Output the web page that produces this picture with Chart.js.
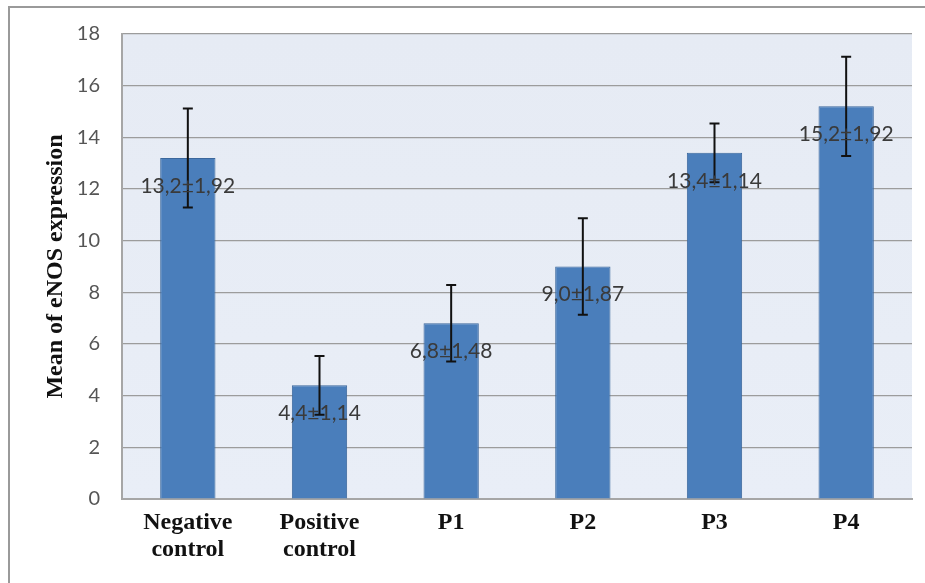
<!DOCTYPE html>
<html>
<head>
<meta charset="utf-8">
<script src="https://cdn.jsdelivr.net/npm/chart.js@4.4.1/dist/chart.umd.min.js"></script>
<style>
  html, body { margin: 0; padding: 0; background: #fff; }
  #wrap { position: relative; width: 925px; height: 583px; }
  #frame { position: absolute; left: 8px; top: 6px; right: 0; bottom: 0;
           border-left: 2px solid #9a9a9a; border-top: 2px solid #9a9a9a; }
  canvas { position: absolute; left: 0; top: 0; }
</style>
</head>
<body>
<div id="wrap">
  <div id="frame"></div>
  <canvas id="chart" width="925" height="583"></canvas>
</div>
<script>
const categories = [["Negative", "control"], ["Positive", "control"], "P1", "P2", "P3", "P4"];
const means = [13.2, 4.4, 6.8, 9.0, 13.4, 15.2];
const errors = [1.92, 1.14, 1.48, 1.87, 1.14, 1.92];
const labels = ["13,2±1,92", "4,4±1,14", "6,8±1,48", "9,0±1,87", "13,4±1,14", "15,2±1,92"];

const plotBg = {
  id: "plotBg",
  beforeDraw(chart) {
    const { ctx, chartArea: a } = chart;
    const g = ctx.createLinearGradient(0, a.top, 0, a.bottom);
    g.addColorStop(0, "#e6ebf4");
    g.addColorStop(1, "#e9eef7");
    ctx.save();
    ctx.fillStyle = g;
    ctx.fillRect(a.left, a.top, a.right - a.left, a.bottom - a.top);
    ctx.restore();
  }
};

const errorBars = {
  id: "errorBars",
  afterDatasetsDraw(chart) {
    const { ctx } = chart;
    const y = chart.scales.y;
    const meta = chart.getDatasetMeta(0);
    ctx.save();
    ctx.strokeStyle = "#111";
    ctx.lineWidth = 2;
    meta.data.forEach((bar, i) => {
      const hi = y.getPixelForValue(means[i] + errors[i]);
      const lo = y.getPixelForValue(means[i] - errors[i]);
      ctx.beginPath();
      ctx.moveTo(bar.x, hi); ctx.lineTo(bar.x, lo);
      ctx.moveTo(bar.x - 5, hi); ctx.lineTo(bar.x + 5, hi);
      ctx.moveTo(bar.x - 5, lo); ctx.lineTo(bar.x + 5, lo);
      ctx.stroke();
    });
    // value labels
    ctx.fillStyle = "#3a3a3a";
    ctx.font = "21px Lato, 'Open Sans', sans-serif";
    ctx.textAlign = "center";
    ctx.textBaseline = "middle";
    meta.data.forEach((bar, i) => {
      ctx.fillText(labels[i], bar.x, bar.y + 28);
    });
    ctx.restore();
  }
};

new Chart(document.getElementById("chart"), {
  type: "bar",
  data: {
    labels: categories,
    datasets: [{
      data: means,
      backgroundColor: "#4a7ebb",
      borderColor: "#3b679c",
      borderWidth: 1,
      barPercentage: 0.42,
      categoryPercentage: 1.0
    }]
  },
  options: {
    responsive: false,
    animation: false,
    events: [],
    layout: { padding: { left: 41, top: 33, right: 13, bottom: 0 } },
    plugins: { legend: { display: false }, tooltip: { enabled: false } },
    scales: {
      x: {
        grid: { display: false },
        border: { color: "#a6a6a6", width: 2 },
        ticks: {
          color: "#111",
          font: { family: "'Liberation Serif', 'DejaVu Serif', serif", size: 24, weight: "bold", lineHeight: 1.12 },
          padding: 2,
          maxRotation: 0
        },
        afterFit(scale) { scale.height = 84; }
      },
      y: {
        min: 0,
        max: 18,
        ticks: {
          stepSize: 2,
          color: "#555",
          font: { family: "Lato, 'Open Sans', sans-serif", size: 20 },
          padding: 22
        },
        grid: { color: "#9c9c9c", lineWidth: 1.2, drawTicks: false },
        border: { color: "#a6a6a6", width: 2 },
        title: {
          display: true,
          text: "Mean of eNOS expression",
          color: "#111",
          font: { family: "'Liberation Serif', 'DejaVu Serif', serif", size: 24, weight: "bold" },
          padding: { top: 0, bottom: 0 }
        },
        afterFit(scale) { scale.width = 81; }
      }
    }
  },
  plugins: [plotBg, errorBars]
});
</script>
</body>
</html>
